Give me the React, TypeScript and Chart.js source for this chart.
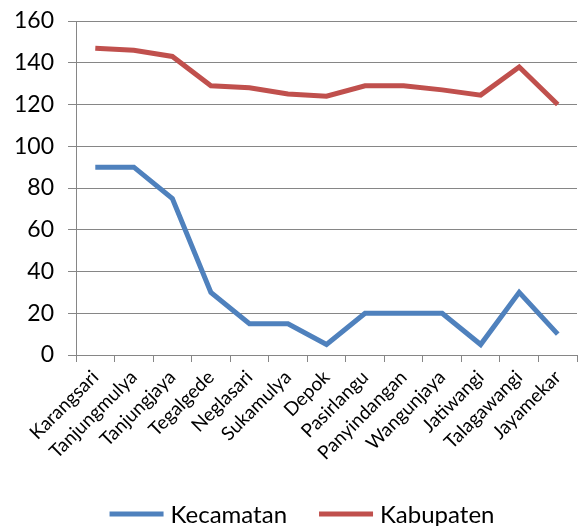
import React, { useEffect, useRef } from "react";
import { Chart, registerables } from "chart.js";

Chart.register(...registerables);

const categories = [
  "Karangsari",
  "Tanjungmulya",
  "Tanjungjaya",
  "Tegalgede",
  "Neglasari",
  "Sukamulya",
  "Depok",
  "Pasirlangu",
  "Panyindangan",
  "Wangunjaya",
  "Jatiwangi",
  "Talagawangi",
  "Jayamekar",
];

const kecamatan = [90, 90, 75, 30, 15, 15, 5, 20, 20, 20, 5, 30, 10];
const kabupaten = [147, 146, 143, 129, 128, 125, 124, 129, 129, 127, 124.5, 138, 120];

const FONT = "Lato, 'Open Sans', sans-serif";

const bottomLegend = {
  id: "bottomLegend",
  afterDraw(chart: any) {
    const ctx = chart.ctx;
    const items = chart.data.datasets.map((d: any) => ({ text: d.label, color: d.borderColor }));
    const lineW = 54;
    const gapText = 7;
    const gapItem = 32;
    const cy = 514;
    ctx.save();
    ctx.font = `24px ${FONT}`;
    const widths = items.map((it: any) => ctx.measureText(it.text).width);
    let total = 0;
    items.forEach((_: any, i: number) => {
      total += lineW + gapText + widths[i];
      if (i < items.length - 1) total += gapItem;
    });
    let x = 302 - total / 2;
    ctx.textBaseline = "middle";
    ctx.textAlign = "left";
    items.forEach((it: any, i: number) => {
      ctx.strokeStyle = it.color;
      ctx.lineWidth = 5;
      ctx.lineCap = "butt";
      ctx.beginPath();
      ctx.moveTo(x, cy);
      ctx.lineTo(x + lineW, cy);
      ctx.stroke();
      x += lineW + gapText;
      ctx.fillStyle = "#000";
      ctx.fillText(it.text, x, cy + 1);
      x += widths[i] + gapItem;
    });
    ctx.restore();
  },
};

export default function App() {
  const ref = useRef<HTMLCanvasElement>(null);

  useEffect(() => {
    document.body.style.margin = "0";
    const canvas = ref.current;
    if (!canvas) return;
    const chart = new Chart(canvas, {
      type: "line",
      data: {
        labels: categories,
        datasets: [
          {
            label: "Kecamatan",
            data: kecamatan,
            borderColor: "#4F81BD",
            backgroundColor: "#4F81BD",
            borderWidth: 5,
            pointRadius: 0,
            tension: 0,
          },
          {
            label: "Kabupaten",
            data: kabupaten,
            borderColor: "#C0504D",
            backgroundColor: "#C0504D",
            borderWidth: 5,
            pointRadius: 0,
            tension: 0,
          },
        ],
      },
      options: {
        animation: false,
        responsive: false,
        layout: { padding: { left: 0, right: 7, top: 21, bottom: 30 } },
        plugins: {
          tooltip: { enabled: false },
          legend: { display: false },
        },
        scales: {
          x: {
            offset: true,
            afterFit: (s: any) => {
              s.height = 141;
              s.paddingTop = 0;
            },
            grid: {
              offset: true,
              drawOnChartArea: false,
              drawTicks: true,
              tickLength: 7,
              color: "#868686",
            },
            border: { color: "#868686", width: 1 },
            ticks: {
              color: "#000",
              font: { family: FONT, size: 19 },
              maxRotation: 45,
              minRotation: 45,
              autoSkip: false,
              padding: 4,
            },
          },
          y: {
            min: 0,
            max: 160,
            afterFit: (s: any) => {
              s.paddingTop = 0;
            },
            grid: {
              color: "#868686",
              lineWidth: 1,
              tickLength: 8,
            },
            border: { color: "#868686", width: 1 },
            ticks: {
              stepSize: 20,
              color: "#000",
              font: { family: FONT, size: 23 },
              padding: 14,
            },
          },
        },
      },
      plugins: [bottomLegend],
    });
    return () => chart.destroy();
  }, []);

  return <canvas ref={ref} width={584} height={526} style={{ display: "block" }} />;
}
